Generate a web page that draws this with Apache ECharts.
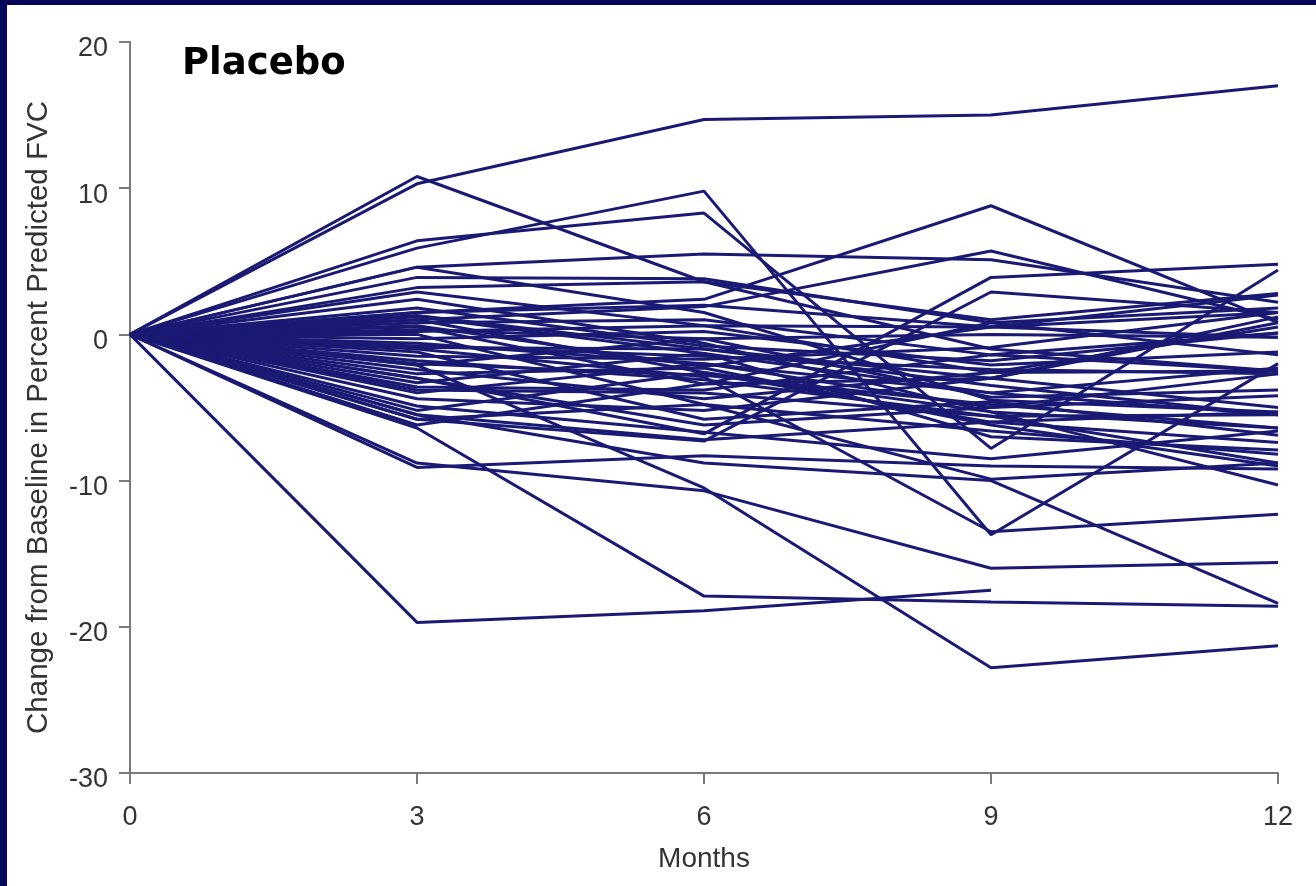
<!DOCTYPE html>
<html>
<head>
<meta charset="utf-8">
<title>Placebo – Change in Percent Predicted FVC</title>
<script src="https://cdn.jsdelivr.net/npm/echarts@6/dist/echarts.min.js"></script>
<style>
  html, body { margin: 0; padding: 0; background: #06065a; }
  #frame { position: relative; width: 1316px; height: 886px; background: #06065a; overflow: hidden; }
  #chart { position: absolute; left: 7px; top: 5px; width: 1309px; height: 881px; background: #ffffff; }
</style>
</head>
<body>
<div id="frame"><div id="chart"></div></div>
<script>
// Visit times (months since baseline)
const months = [0, 3, 6, 9, 12];
const xTicks = [0, 3, 6, 9, 12];
const yTicks = [-30, -20, -10, 0, 10, 20];

// Patients who rose well above baseline at some visit
const risingSubjects = [
  [0, 10.3, 14.7, 15.0, 17.0],
  [0, 10.8, 3.6, -1.0, -2.5],
  [0, 5.9, 9.8, -13.7, -2.0],
  [0, 6.4, 8.3, -7.8, 4.4],
  [0, 4.6, 5.5, 5.1, 2.2],
  [0, 1.5, 2.4, 8.8, 0.8],
  [0, 1.0, 1.9, 5.7, 1.0],
  [0, -3.0, -6.8, 3.9, 4.8],
  [0, -5.8, -7.3, 2.9, 1.5]
];

// Patients with marked decline
const decliningSubjects = [
  [0, -1.0, -2.9, -13.5, -12.3],
  [0, -6.4, -17.9, -18.3, -18.6],
  [0, -19.7, -18.9, -17.5, null],
  [0, -2.1, -10.5, -22.8, -21.3],
  [0, -8.8, -10.7, -16.0, -15.6],
  [0, -9.1, -8.3, -9.0, -9.2],
  [0, -5.5, -8.8, -10.0, -18.4]
];

// Patients staying within the central band
const stableSubjects = [
  [0, 4.6, 1.5, -4.5, -5.3],
  [0, 3.9, 3.8, 0.8, 1.8],
  [0, 3.2, 3.6, 1.0, 2.8],
  [0, 2.9, 0.6, -2.6, -2.5],
  [0, 2.4, -0.6, -5.3, -6.4],
  [0, 1.5, 2.0, 0.5, 2.7],
  [0, 1.2, -1.3, -4.0, -2.3],
  [0, 1.0, -2.6, -6.0, -7.4],
  [0, 0.8, 1.0, -1.4, 0.1],
  [0, 0.5, -3.4, -3.0, -5.0],
  [0, 0.3, -0.3, 0.0, -0.2],
  [0, 0.0, -4.8, -6.6, -8.2],
  [0, -0.3, 0.2, -2.1, -1.2],
  [0, -0.6, -2.0, -5.0, -2.7],
  [0, -0.9, -1.0, -3.5, -5.5],
  [0, -1.2, -5.8, -4.6, -6.9],
  [0, -1.5, -1.7, -0.9, 1.5],
  [0, -1.8, -3.1, -5.6, -8.8],
  [0, -2.1, -0.3, -4.3, -3.8],
  [0, -2.4, -4.4, -2.6, 0.5],
  [0, -2.7, -2.3, -6.2, -9.0],
  [0, -3.0, -6.2, -5.0, -4.2],
  [0, -3.3, -1.3, -7.0, -7.9],
  [0, -3.6, -3.8, -1.4, -2.5],
  [0, -4.0, -2.0, -4.0, -5.5],
  [0, -4.4, -5.2, -3.0, 0.8],
  [0, -4.9, -6.7, -8.5, -6.6],
  [0, -5.2, -2.6, -5.3, -10.3],
  [0, -5.5, -7.2, -6.0, -5.3],
  [0, -5.8, -4.8, -9.9, -8.8],
  [0, -6.2, -3.4, 0.8, -1.4],
  [0, 1.3, -1.0, -3.0, 1.2],
  [0, 0.2, 0.6, 0.5, -0.2],
  [0, -0.8, -1.5, -2.4, -2.7],
  [0, -2.0, -2.8, -4.8, -6.4],
  [0, 1.8, -0.8, -1.8, 0.1],
  [0, -3.8, -4.0, -5.6, -5.5],
  [0, 0.6, -2.2, 0.5, 1.5]
];

const lineColor = '#1a1a74';
const axisColor = '#7a7a7a';
const textColor = '#333333';
const fontFamily = '"Liberation Sans", Arial, Helvetica, sans-serif';

const allSubjects = risingSubjects.concat(decliningSubjects, stableSubjects);

const series = allSubjects.map(function (vals, i) {
  return {
    type: 'line',
    name: 'subject' + (i + 1),
    data: months.map(function (m, k) { return [m, vals[k]]; }),
    symbol: 'none',
    connectNulls: false,
    silent: true,
    lineStyle: { color: lineColor, width: 3 }
  };
});

const chart = echarts.init(document.getElementById('chart'), null, { renderer: 'canvas' });
chart.setOption({
  animation: false,
  backgroundColor: '#ffffff',
  title: {
    text: 'Placebo',
    left: 170,
    top: 36,
    textStyle: {
      fontFamily: '"DejaVu Sans", "Noto Sans", sans-serif',
      fontWeight: 'bold',
      fontSize: 37,
      color: '#000000'
    }
  },
  grid: { left: 123, right: 38, top: 37, bottom: 113, containLabel: false },
  xAxis: {
    type: 'value',
    min: xTicks[0],
    max: xTicks[xTicks.length - 1],
    interval: 3,
    name: 'Months',
    nameLocation: 'middle',
    nameGap: 72,
    nameTextStyle: { fontFamily: fontFamily, fontSize: 28, color: textColor },
    axisLine: { show: true, onZero: false, lineStyle: { color: axisColor, width: 2 } },
    axisTick: { show: true, inside: false, length: 11, lineStyle: { color: axisColor, width: 2 } },
    axisLabel: { fontFamily: fontFamily, fontSize: 27, color: textColor, margin: 31 },
    splitLine: { show: false }
  },
  yAxis: {
    type: 'value',
    min: yTicks[0],
    max: yTicks[yTicks.length - 1],
    interval: 10,
    name: 'Change from Baseline in Percent Predicted FVC',
    nameLocation: 'middle',
    nameGap: 76,
    nameRotate: 90,
    nameTextStyle: { fontFamily: fontFamily, fontSize: 29.5, color: textColor, padding: [0, 20, 0, 0] },
    axisLine: { show: true, onZero: false, lineStyle: { color: axisColor, width: 2 } },
    axisTick: { show: true, inside: false, length: 11, lineStyle: { color: axisColor, width: 2 } },
    axisLabel: {
      fontFamily: fontFamily, fontSize: 27, color: textColor, margin: 22,
      verticalAlign: 'top', lineHeight: 14
    },
    splitLine: { show: false }
  },
  series: series
});
</script>
</body>
</html>
